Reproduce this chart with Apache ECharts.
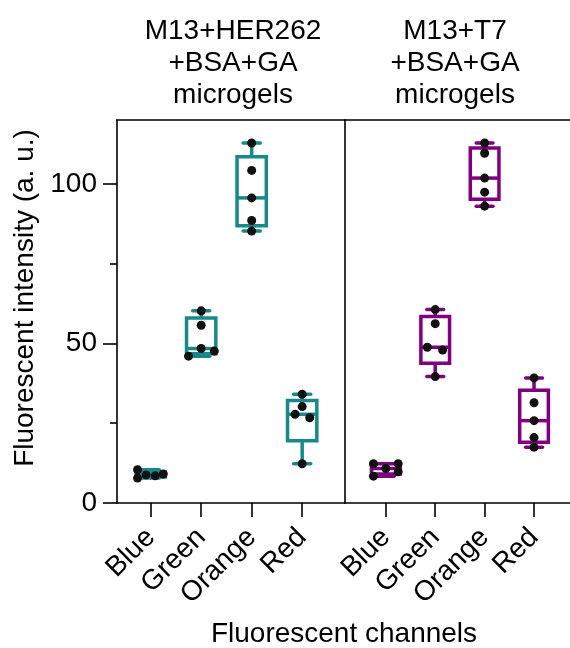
<!DOCTYPE html>
<html>
<head>
<meta charset="utf-8">
<script src="https://cdn.jsdelivr.net/npm/echarts@6/dist/echarts.min.js"></script>
<style>html,body{margin:0;padding:0;background:#fff}#c{width:570px;height:648px}</style>
</head>
<body>
<div id="c"></div>
<script>
// ---- data ----
const categories = ['Blue', 'Green', 'Orange', 'Red'];
const yTicks = [0, 50, 100];
const yMinorTicks = [25, 75];
const panelTitles = ['M13+HER262\n+BSA+GA\nmicrogels', 'M13+T7\n+BSA+GA\nmicrogels'];
const xTitle = 'Fluorescent channels';
const yTitle = 'Fluorescent intensity (a. u.)';

// M13+HER262+BSA+GA microgels
const her262Blue = [10.4, 7.8, 8.8, 8.5, 9.1];
const her262Green = [60.2, 55.7, 48.4, 47.6, 46.0];
const her262Orange = [112.8, 104.2, 95.6, 88.5, 85.2];
const her262Red = [34.1, 30.2, 27.8, 26.7, 12.3];
// M13+T7+BSA+GA microgels
const t7Blue = [12.3, 8.4, 10.8, 12.3, 9.8];
const t7Green = [60.6, 56.2, 48.8, 47.9, 39.6];
const t7Orange = [112.8, 109.6, 101.8, 97.4, 93.0];
const t7Red = [39.2, 31.4, 25.8, 20.5, 17.5];

// horizontal scatter jitter of the dots (fraction of category spacing)
const her262Jitter = [[-0.26, -0.26, -0.09, 0.09, 0.25], [0, 0, 0, 0.26, -0.25], [0, 0, 0, 0, 0], [0, 0, -0.14, 0.15, 0]];
const t7Jitter = [[-0.25, -0.25, 0, 0.25, 0.25], [0, 0, -0.16, 0.15, 0], [0, 0, 0, 0, 0], [0, 0, 0, 0, 0]];

// ---- styling ----
const FONT = "'Liberation Sans', Arial, Helvetica, sans-serif";
const TEAL = '#18898b';
const PURPLE = '#800080';
const BOX_W = 0.58;
const CAP_W = 0.34;
const LW = 3.5;

function median(s) {
  const n = s.length;
  return n % 2 ? s[(n - 1) / 2] : (s[n / 2 - 1] + s[n / 2]) / 2;
}
function boxOf(arr) {
  const s = [...arr].sort((a, b) => a - b);
  const n = s.length, half = Math.floor(n / 2);
  return [s[0], median(s.slice(0, half)), median(s), median(s.slice(n - half)), s[n - 1]];
}
function boxData(groups) {
  return groups.map((g, i) => [i + 1, ...boxOf(g)]);
}
function dotData(groups, jitter) {
  const out = [];
  groups.forEach((g, i) => g.forEach((v, j) => out.push([i + 1 + jitter[i][j], v])));
  return out;
}
function renderBox(color) {
  return function (params, api) {
    const x = api.value(0);
    const mn = api.value(1), q1 = api.value(2), md = api.value(3), q3 = api.value(4), mx = api.value(5);
    const w = api.size([BOX_W, 0])[0];
    const cw = api.size([CAP_W, 0])[0];
    const pMin = api.coord([x, mn]), pQ1 = api.coord([x, q1]), pMd = api.coord([x, md]),
          pQ3 = api.coord([x, q3]), pMax = api.coord([x, mx]);
    const cx = pMin[0];
    const ls = { stroke: color, lineWidth: LW, lineCap: 'round' };
    return {
      type: 'group',
      children: [
        { type: 'line', shape: { x1: cx, y1: pMax[1], x2: cx, y2: pQ3[1] }, style: ls },
        { type: 'line', shape: { x1: cx, y1: pQ1[1], x2: cx, y2: pMin[1] }, style: ls },
        { type: 'line', shape: { x1: cx - cw / 2, y1: pMax[1], x2: cx + cw / 2, y2: pMax[1] }, style: ls },
        { type: 'line', shape: { x1: cx - cw / 2, y1: pMin[1], x2: cx + cw / 2, y2: pMin[1] }, style: ls },
        { type: 'rect', shape: { x: cx - w / 2, y: pQ3[1], width: w, height: pQ1[1] - pQ3[1] },
          style: { stroke: color, lineWidth: LW, fill: '#fff' } },
        { type: 'line', shape: { x1: cx - w / 2, y1: pMd[1], x2: cx + w / 2, y2: pMd[1] }, style: { stroke: color, lineWidth: LW } }
      ]
    };
  };
}

const axisLineStyle = { color: '#000', width: 1.6 };
function bottomX(grid, min, max) {
  return {
    type: 'value', gridIndex: grid, min: min, max: max, position: 'bottom',
    splitLine: { show: false },
    axisLine: { show: true, onZero: false, lineStyle: axisLineStyle },
    axisTick: { show: true, length: 14, customValues: [1, 2, 3, 4], lineStyle: axisLineStyle },
    axisLabel: {
      customValues: [1, 2, 3, 4], rotate: 45, margin: 30, color: '#000', fontSize: 28, fontFamily: FONT,
      formatter: v => categories[Math.round(v) - 1]
    }
  };
}
function topX(grid, min, max) {
  return {
    type: 'value', gridIndex: grid, min: min, max: max, position: 'top',
    splitLine: { show: false },
    axisLine: { show: true, onZero: false, lineStyle: axisLineStyle },
    axisTick: { show: false }, axisLabel: { show: false }
  };
}

const chart = echarts.init(document.getElementById('c'), null, { renderer: 'canvas' });
chart.setOption({
  backgroundColor: '#fff',
  animation: false,
  grid: [
    { left: 117, top: 120, width: 228, height: 383 },
    { left: 345, top: 120, width: 230, height: 383 }
  ],
  xAxis: [
    bottomX(0, 0.333, 4.848),
    topX(0, 0.333, 4.848),
    bottomX(1, 0.174, 4.728),
    topX(1, 0.174, 4.728)
  ],
  yAxis: [
    {
      type: 'value', gridIndex: 0, min: 0, max: 120,
      splitLine: { show: false },
      axisLine: { show: true, onZero: false, lineStyle: axisLineStyle },
      axisTick: { show: true, length: 14, customValues: yTicks, lineStyle: axisLineStyle },
      axisLabel: { customValues: yTicks, margin: 20, color: '#000', fontSize: 28, fontFamily: FONT }
    },
    {
      type: 'value', gridIndex: 0, min: 0, max: 120, position: 'left',
      splitLine: { show: false },
      axisLine: { show: false },
      axisTick: { show: true, length: 7, customValues: yMinorTicks, lineStyle: axisLineStyle },
      axisLabel: { show: false }
    },
    {
      type: 'value', gridIndex: 1, min: 0, max: 120,
      splitLine: { show: false },
      axisLine: { show: true, onZero: false, lineStyle: axisLineStyle },
      axisTick: { show: false }, axisLabel: { show: false }
    }
  ],
  series: [
    { type: 'custom', xAxisIndex: 0, yAxisIndex: 0, renderItem: renderBox(TEAL),
      encode: { x: 0, y: [1, 2, 3, 4, 5] }, z: 2,
      data: boxData([her262Blue, her262Green, her262Orange, her262Red]) },
    { type: 'custom', xAxisIndex: 2, yAxisIndex: 2, renderItem: renderBox(PURPLE),
      encode: { x: 0, y: [1, 2, 3, 4, 5] }, z: 2,
      data: boxData([t7Blue, t7Green, t7Orange, t7Red]) },
    { type: 'scatter', xAxisIndex: 0, yAxisIndex: 0, symbolSize: 9, z: 5,
      itemStyle: { color: '#111', opacity: 1 },
      data: dotData([her262Blue, her262Green, her262Orange, her262Red], her262Jitter) },
    { type: 'scatter', xAxisIndex: 2, yAxisIndex: 2, symbolSize: 9, z: 5,
      itemStyle: { color: '#111', opacity: 1 },
      data: dotData([t7Blue, t7Green, t7Orange, t7Red], t7Jitter) }
  ],
  graphic: [
    { type: 'text', x: 233, y: 15, style: { text: panelTitles[0], align: 'center', verticalAlign: 'top', font: '28px ' + FONT, lineHeight: 32, fill: '#000' } },
    { type: 'text', x: 455, y: 15, style: { text: panelTitles[1], align: 'center', verticalAlign: 'top', font: '28px ' + FONT, lineHeight: 32, fill: '#000' } },
    { type: 'text', x: 344, y: 634, style: { text: xTitle, align: 'center', verticalAlign: 'middle', font: '28px ' + FONT, fill: '#000' } },
    { type: 'text', x: 25, y: 298, rotation: Math.PI / 2, style: { text: yTitle, align: 'center', verticalAlign: 'middle', font: '28px ' + FONT, fill: '#000' } }
  ]
});
</script>
</body>
</html>
